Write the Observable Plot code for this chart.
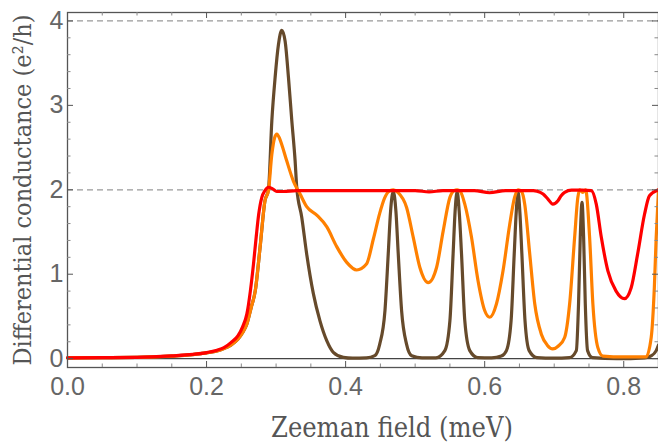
<!DOCTYPE html>
<html>
<head>
<meta charset="utf-8">
<script src="https://cdn.jsdelivr.net/npm/d3@7"></script>
<script src="https://cdn.jsdelivr.net/npm/@observablehq/plot@0.6"></script>
<style>
  html, body { margin: 0; padding: 0; background: #fff; }
  #chart { width: 658px; height: 443px; }
</style>
</head>
<body>
<div id="chart"></div>
<script>
// ---- data ----
const xBrown = [0, 0.05, 0.1, 0.15, 0.18, 0.2, 0.215, 0.225, 0.235, 0.245, 0.252, 0.258, 0.264, 0.27, 0.277, 0.284, 0.289, 0.2939, 0.2986, 0.3034, 0.3082, 0.313, 0.3178, 0.3226, 0.3274, 0.3297, 0.337, 0.344, 0.3536, 0.363, 0.373, 0.3823, 0.3967, 0.41, 0.43, 0.442, 0.449, 0.4566, 0.4613, 0.4647, 0.4685, 0.4723, 0.4757, 0.4805, 0.4877, 0.495, 0.51, 0.53, 0.5427, 0.55, 0.5546, 0.5575, 0.5604, 0.5633, 0.5667, 0.5714, 0.5786, 0.59, 0.61, 0.624, 0.6313, 0.638, 0.6425, 0.6455, 0.648, 0.6505, 0.6535, 0.658, 0.664, 0.675, 0.7, 0.722, 0.7318, 0.735, 0.7375, 0.740, 0.7423, 0.7447, 0.748, 0.755, 0.79, 0.83, 0.84, 0.8467, 0.85];
const yBrown = [0.01, 0.012, 0.015, 0.03, 0.048, 0.068, 0.09, 0.12, 0.16, 0.23, 0.31, 0.41, 0.6, 0.8, 1.32, 1.87, 2.0, 2.82, 3.33, 3.72, 3.89, 3.76, 3.33, 2.82, 2.34, 2.03, 1.67, 1.24, 0.77, 0.45, 0.21, 0.075, 0.015, 0.005, 0.008, 0.035, 0.17, 0.57, 1.24, 1.75, 1.98, 1.75, 1.24, 0.57, 0.17, 0.035, 0.008, 0.01, 0.095, 0.45, 1.24, 1.75, 1.98, 1.75, 1.24, 0.45, 0.095, 0.012, 0.008, 0.03, 0.095, 0.45, 1.24, 1.75, 1.98, 1.75, 1.24, 0.45, 0.095, 0.012, 0.005, 0.012, 0.095, 0.65, 1.44, 1.85, 1.44, 0.65, 0.095, 0.012, 0.0, 0.01, 0.035, 0.095, 0.16];

const xOrange = [0, 0.05, 0.1, 0.15, 0.18, 0.2, 0.215, 0.225, 0.235, 0.245, 0.252, 0.258, 0.264, 0.27, 0.277, 0.284, 0.289, 0.2939, 0.298, 0.301, 0.305, 0.308, 0.3154, 0.325, 0.3345, 0.344, 0.3585, 0.373, 0.387, 0.4016, 0.416, 0.43, 0.44, 0.449, 0.456, 0.462, 0.4685, 0.475, 0.4877, 0.4972, 0.5068, 0.5188, 0.5308, 0.5403, 0.55, 0.556, 0.5604, 0.565, 0.5714, 0.581, 0.5905, 0.6, 0.6073, 0.617, 0.6264, 0.636, 0.643, 0.648, 0.653, 0.6576, 0.6648, 0.672, 0.6815, 0.69, 0.698, 0.706, 0.715, 0.7222, 0.7294, 0.734, 0.7366, 0.741, 0.7452, 0.7509, 0.7556, 0.7628, 0.77, 0.8, 0.832, 0.8395, 0.844, 0.8467, 0.85];
const yOrange = [0.01, 0.012, 0.015, 0.03, 0.048, 0.068, 0.09, 0.12, 0.16, 0.23, 0.31, 0.41, 0.6, 0.8, 1.32, 1.87, 1.99, 2.42, 2.62, 2.66, 2.61, 2.54, 2.34, 2.1, 1.95, 1.8, 1.7, 1.56, 1.33, 1.14, 1.05, 1.12, 1.42, 1.72, 1.9, 1.98, 2.0, 1.97, 1.79, 1.44, 1.08, 0.9, 1.08, 1.51, 1.91, 1.99, 2.0, 1.98, 1.83, 1.44, 0.92, 0.57, 0.49, 0.65, 1.04, 1.59, 1.91, 2.0, 1.98, 1.83, 1.24, 0.65, 0.29, 0.16, 0.115, 0.15, 0.25, 0.65, 1.44, 1.91, 2.0, 1.97, 2.0, 1.44, 0.65, 0.13, 0.03, 0.02, 0.02, 0.25, 0.84, 1.44, 2.0];

const xRed = [0, 0.05, 0.1, 0.15, 0.18, 0.2, 0.215, 0.225, 0.235, 0.245, 0.252, 0.258, 0.263, 0.2675, 0.2715, 0.275, 0.2795, 0.284, 0.289, 0.295, 0.301, 0.31, 0.33, 0.36, 0.4, 0.44, 0.47, 0.5, 0.52, 0.54, 0.56, 0.585, 0.607, 0.63, 0.65, 0.67, 0.68, 0.684, 0.691, 0.698, 0.7054, 0.71, 0.715, 0.725, 0.74, 0.7533, 0.7605, 0.7677, 0.7772, 0.789, 0.801, 0.8107, 0.82, 0.8299, 0.837, 0.85];
const yRed = [0.01, 0.012, 0.015, 0.033, 0.05, 0.072, 0.1, 0.13, 0.19, 0.27, 0.38, 0.53, 0.8, 1.12, 1.45, 1.71, 1.91, 1.99, 2.03, 2.01, 1.98, 1.98, 1.99, 1.99, 1.99, 1.99, 1.99, 1.99, 1.975, 1.99, 1.99, 1.99, 1.965, 1.99, 1.99, 1.99, 1.97, 1.95, 1.89, 1.83, 1.87, 1.93, 1.97, 1.995, 1.995, 1.99, 1.83, 1.44, 1.04, 0.8, 0.71, 0.84, 1.24, 1.71, 1.93, 2.0];

const xTicks = [0, 0.2, 0.4, 0.6, 0.8];
const xMinorTicks = [0.05, 0.1, 0.15, 0.25, 0.3, 0.35, 0.45, 0.5, 0.55, 0.65, 0.7, 0.75, 0.85];
const yTicks = [0, 1, 2, 3, 4];
const yMinorTicks = [0.2, 0.4, 0.6, 0.8, 1.2, 1.4, 1.6, 1.8, 2.2, 2.4, 2.6, 2.8, 3.2, 3.4, 3.6, 3.8];
const gridLines = [2, 4];
const xLabel = "Zeeman field (meV)";
const yLabel = "Differential conductance (e\u00B2/h)";

const seriesColors = {brown: "#664a2b", orange: "#ff8000", red: "#ff0000"};

// ---- build table ----
const rows = [];
xBrown.forEach((x, i) => rows.push({series: "brown", x, y: yBrown[i]}));
xOrange.forEach((x, i) => rows.push({series: "orange", x, y: yOrange[i]}));
xRed.forEach((x, i) => rows.push({series: "red", x, y: yRed[i]}));

const W = 658, H = 443;
const mL = 67, mR = 0, mT = 12, mB = 76;
const fw = W - mL - mR, fh = H - mT - mB;
const frameColor = "#555";
const textColor = "#666";
const serifFont = "'DejaVu Serif Condensed', 'DejaVu Serif'";
const sansFont = "Liberation Sans";

const chart = Plot.plot({
  width: W,
  height: H,
  marginLeft: mL,
  marginRight: mR,
  marginTop: mT,
  marginBottom: mB,
  style: {background: "#fff", fontSize: "25px", color: textColor, overflow: "visible"},
  x: {domain: [0, 0.85], axis: null},
  y: {domain: [-0.105, 4.1], axis: null},
  marks: [
    Plot.ruleY(gridLines, {y: d => d, stroke: "#999", strokeWidth: 1.2, strokeDasharray: "6,4"}),
    Plot.ruleY([0], {stroke: "#444", strokeWidth: 1.3}),
    Plot.line(rows.filter(d => d.series === "brown"), {x: "x", y: "y", stroke: seriesColors.brown, strokeWidth: 3.2, curve: "monotone-x"}),
    Plot.line(rows.filter(d => d.series === "orange"), {x: "x", y: "y", stroke: seriesColors.orange, strokeWidth: 3.2, curve: "monotone-x"}),
    Plot.line(rows.filter(d => d.series === "red"), {x: "x", y: "y", stroke: seriesColors.red, strokeWidth: 3.2, curve: "monotone-x"}),
    Plot.frame({stroke: frameColor, strokeWidth: 1.3}),
    Plot.tickX(xTicks, {x: d => d, insetTop: fh - 6, stroke: frameColor}),
    Plot.tickX(xTicks, {x: d => d, insetBottom: fh - 6, stroke: frameColor}),
    Plot.tickX(xMinorTicks, {x: d => d, insetTop: fh - 3.5, stroke: "#888"}),
    Plot.tickX(xMinorTicks, {x: d => d, insetBottom: fh - 3.5, stroke: "#888"}),
    Plot.tickY(yTicks, {y: d => d, insetRight: fw - 6, stroke: frameColor}),
    Plot.tickY(yTicks, {y: d => d, insetLeft: fw - 6, stroke: frameColor}),
    Plot.tickY(yMinorTicks, {y: d => d, insetRight: fw - 3.5, stroke: "#888"}),
    Plot.tickY(yMinorTicks, {y: d => d, insetLeft: fw - 3.5, stroke: "#888"}),
    Plot.axisX(xTicks, {anchor: "bottom", tickSize: 0, tickPadding: 10, tickFormat: d3.format(".1f"), fontSize: 25, fontFamily: sansFont, fill: textColor, label: null}),
    Plot.axisY(yTicks, {anchor: "left", tickSize: 0, tickPadding: 4, tickFormat: d3.format("d"), fontSize: 25, fontFamily: sansFont, fill: textColor, label: null}),
    Plot.text([xLabel], {frameAnchor: "bottom", text: d => d, textAnchor: "middle", dx: 29, dy: 61, lineAnchor: "middle", fontSize: 27, fontFamily: serifFont, fill: "#555"}),
    Plot.text([yLabel], {frameAnchor: "left", text: d => d, textAnchor: "middle", dx: -45, rotate: -90, lineAnchor: "middle", fontSize: 25, fontFamily: serifFont, fill: "#555"})
  ]
});

chart.querySelectorAll("text").forEach(el => {
  const t = (el.textContent || "").trim();
  const isTitle = (t.indexOf("Zeeman") === 0 || t.indexOf("Differential") === 0);
  const fam = isTitle ? serifFont : sansFont;
  el.setAttribute("font-family", fam);
  el.style.setProperty("font-family", fam, "important");
  if (isTitle) el.style.setProperty("font-stretch", "condensed");
});

document.getElementById("chart").appendChild(chart);
</script>
</body>
</html>
